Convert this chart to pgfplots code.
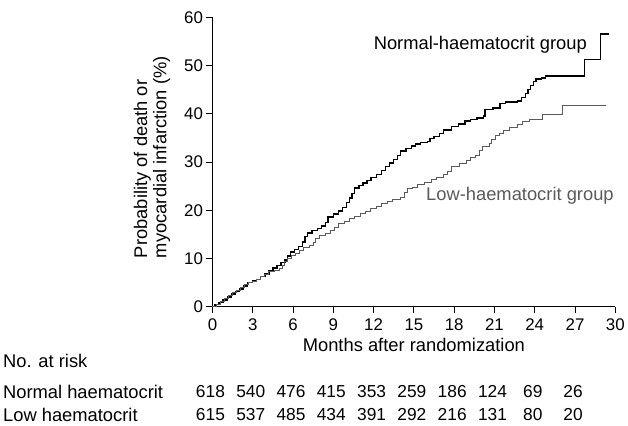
\documentclass[border=0pt]{standalone}
\usepackage{pgfplots}
\pgfplotsset{compat=1.18}
\usepackage{fontspec}
\setmainfont{Liberation Sans}

\definecolor{lowgray}{HTML}{5A5A5A}

\begin{document}
\begin{tikzpicture}[x=1bp,y=1bp]
\begin{axis}[
    scale only axis,
    width=405bp, height=291bp,
    xmin=0, xmax=30, ymin=0, ymax=60,
    xtick={0,3,...,30},
    ytick={0,10,...,60},
    axis x line=bottom, axis y line=left,
    axis line style={-, line width=0.9pt},
    tick style={black, line width=0.9pt},
    tick align=outside, major tick length=6bp,
    tick label style={font=\fontsize{17}{19}\selectfont},
    /pgf/number format/assume math mode=true,
    xticklabel style={yshift=-3bp},
    yticklabel style={xshift=0bp},
    xlabel={Months after randomization},
    xlabel style={at={(rel axis cs:0.5,-0.133)}, anchor=center,
      font=\fontsize{18.5}{20}\selectfont},
    ylabel={Probability of death or\\myocardial infarction (\%)},
    ylabel style={at={(rel axis cs:-0.150,0.156)}, anchor=west, align=left,
      font=\fontsize{18.5}{19.5}\selectfont},
    clip=false,
  ]

  % normal haematocrit group
  \addplot[const plot, black, line width=1.4pt] coordinates {
    (0,0) (0.2,0.4) (0.5,0.9) (0.8,1.4) (1.1,2.0) (1.4,2.6) (1.7,3.2)
    (2.0,3.7) (2.3,4.3) (2.6,5.0) (3.0,5.3) (3.3,5.7) (3.6,6.2) (3.9,6.8)
    (4.2,7.4) (4.5,8.0) (4.8,8.6) (5.1,9.2) (5.4,9.7) (5.6,10.5) (5.8,11.3)
    (6.1,11.8) (6.4,12.5) (6.7,13.4) (6.9,14.5) (7.1,15.3) (7.4,15.8)
    (7.8,16.2) (8.1,16.7) (8.4,17.5) (8.6,18.6) (9.0,19.2) (9.4,19.8)
    (9.7,20.6) (10.0,21.6) (10.2,22.5) (10.4,23.5) (10.6,24.6) (10.9,25.1)
    (11.2,25.6) (11.5,26.2) (11.8,26.8) (12.2,27.4) (12.6,28.2) (12.9,29.0)
    (13.2,29.8) (13.5,30.5) (13.8,31.4) (14.0,32.3) (14.4,32.8) (14.8,33.3)
    (15.1,33.7) (15.5,34.0) (16.0,34.2) (16.2,34.8) (16.5,35.3) (16.9,35.9)
    (17.2,36.6) (17.8,37.3) (18.3,37.9) (18.8,38.5) (19.2,38.8) (19.7,39.1)
    (20.2,39.5) (20.3,40.9) (20.9,41.2) (21.4,42.1) (21.8,42.4) (22.7,42.6)
    (23.0,43.3) (23.3,44.2) (23.5,45.0) (23.7,45.9) (23.9,46.7) (24.1,47.2)
    (24.5,47.4) (24.8,47.8) (27.7,51.3) (28.9,56.5) (29.5,56.5)
  };

  % low haematocrit group
  \addplot[const plot, lowgray, line width=1pt] coordinates {
    (0,0) (0.3,0.5) (0.6,1.1) (0.9,1.7) (1.2,2.3) (1.5,2.9) (1.8,3.4)
    (2.1,4.0) (2.4,4.6) (2.7,5.0) (3.0,5.2) (3.3,5.7) (3.6,6.2) (3.9,6.7)
    (4.2,7.2) (4.6,7.6) (5.0,8.0) (5.2,8.6) (5.4,9.4) (5.6,10.0) (5.9,10.6)
    (6.2,11.0) (6.5,11.6) (6.8,12.2) (7.2,12.6) (7.5,13.4) (7.7,14.2)
    (8.0,14.8) (8.4,15.2) (8.8,15.8) (9.1,16.5) (9.4,17.2) (9.8,17.7)
    (10.2,18.2) (10.6,18.7) (11.0,19.3) (11.4,19.7) (11.8,20.3) (12.2,20.8)
    (12.6,21.4) (13.0,21.9) (13.4,22.2) (14.0,22.6) (14.3,23.6) (14.5,24.4)
    (14.9,24.8) (15.3,25.3) (15.8,25.8) (16.3,26.3) (16.7,26.8) (17.2,27.3)
    (17.5,28.0) (17.8,29.1) (18.4,29.6) (18.9,30.2) (19.2,30.9) (19.6,31.3)
    (19.9,32.3) (20.1,33.2) (20.6,33.8) (20.8,34.7) (21.1,35.4) (21.4,36.0)
    (21.7,36.6) (22.1,37.2) (22.7,37.8) (23.1,38.4) (23.6,38.8) (24.6,39.9)
    (26.1,41.8) (29.3,41.8)
  };

  \node[anchor=west, font=\fontsize{18.5}{20}\selectfont, inner sep=0pt]
    at (axis cs:12.0,54.3) {Normal-haematocrit group};
  \node[anchor=west, font=\fontsize{18.5}{20}\selectfont, text=lowgray, inner sep=0pt]
    at (axis cs:15.9,22.9) {Low-haematocrit group};

  % numbers at risk
  \node[anchor=west, font=\fontsize{18.5}{20}\selectfont, inner sep=0pt]
    at (axis cs:-15.6,-11.3) {No. at risk};
  \node[anchor=west, font=\fontsize{18.5}{20}\selectfont, inner sep=0pt]
    at (axis cs:-15.6,-17.6) {Normal haematocrit};
  \node[anchor=west, font=\fontsize{18.5}{20}\selectfont, inner sep=0pt]
    at (axis cs:-15.6,-22.4) {Low haematocrit};
  \foreach \m/\n/\l in {0/618/615, 3/540/537, 6/476/485, 9/415/434,
      12/353/391, 15/259/292, 18/186/216, 21/124/131, 24/69/80, 27/26/20} {
    \edef\temp{\noexpand\node[font=\noexpand\fontsize{17.5}{19}\noexpand\selectfont,
        xshift=-2bp, inner sep=0pt] at (axis cs:\m,-17.6) {\n};
      \noexpand\node[font=\noexpand\fontsize{17.5}{19}\noexpand\selectfont,
        xshift=-2bp, inner sep=0pt] at (axis cs:\m,-22.4) {\l};}
    \temp
  }

  % page frame as in the reference
  \path (axis cs:-15.82,63.57) rectangle (axis cs:30.76,-24.68);
\end{axis}
\end{tikzpicture}
\end{document}
